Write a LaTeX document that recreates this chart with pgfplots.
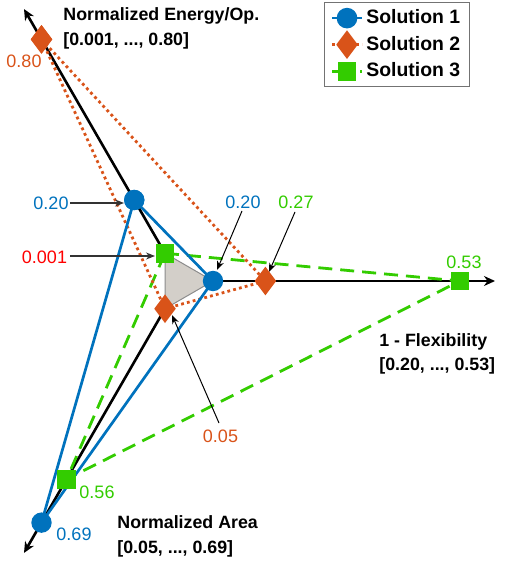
\documentclass[border=0pt]{standalone}
\usepackage{pgfplots}
\pgfplotsset{compat=1.18}
\usepackage{pgfplotstable}
\usepackage{fontspec}
\setmainfont{Liberation Sans}
\usetikzlibrary{arrows.meta}
\definecolor{cblue}{RGB}{0,114,189}
\definecolor{corange}{RGB}{217,83,25}
\definecolor{cgreen}{RGB}{51,204,0}
\definecolor{cred}{RGB}{255,0,0}
\definecolor{tri}{RGB}{211,207,201}
\newcommand\lbl{\fontsize{9}{10}\selectfont}
\newcommand\ttl{\bfseries\fontsize{8.9}{10}\selectfont}

% columns: axis angle, value, axis minimum, axis maximum
\pgfplotstableread{
ang val lo hi
120 0.20 0.001 0.80
0 0.20 0.20 0.53
240 0.69 0.05 0.69
120 0.20 0.001 0.80
}\solA
\pgfplotstableread{
ang val lo hi
120 0.80 0.001 0.80
0 0.27 0.20 0.53
240 0.05 0.05 0.69
120 0.80 0.001 0.80
}\solB
\pgfplotstableread{
ang val lo hi
120 0.001 0.001 0.80
0 0.53 0.20 0.53
240 0.56 0.05 0.69
120 0.001 0.001 0.80
}\solC

\begin{document}
\begin{tikzpicture}
\begin{axis}[
  scale only axis, width=256pt, height=281.5pt,
  xmin=-181, xmax=331, ymin=-282, ymax=281,
  hide axis, clip=false,
  legend image code/.code={\draw[mark repeat=2,mark phase=2,#1] plot coordinates {(0pt,0pt) (7.5pt,0pt) (15pt,0pt)};},
  legend style={at={(axis cs:143,279)}, anchor=north west, draw=black!55, line width=0.6pt,
    font=\bfseries\fontsize{9.7}{11}\selectfont, inner xsep=3pt, inner ysep=2pt,
    nodes={inner sep=1.5pt}, row sep=1.5pt},
  legend cell align=left,
]
\addlegendimage{cblue, line width=1.3pt, mark=*, mark size=4.5pt}
\addlegendentry{Solution 1}
\addlegendimage{corange, line width=1.4pt, dash pattern=on 1.4pt off 1.6pt, mark=diamond*, mark size=6pt, mark options={solid}}
\addlegendentry{Solution 2}
\addlegendimage{cgreen, line width=1.4pt, dash pattern=on 4pt off 3pt, mark=square*, mark size=4pt, mark options={solid}}
\addlegendentry{Solution 3}

% axes
\addplot[black, line width=1.3pt, -{Stealth[length=5.5pt,width=5pt]}, data cs=polar, forget plot] coordinates {(120,32) (120,314)};
\addplot[black, line width=1.3pt, -{Stealth[length=5.5pt,width=5pt]}, data cs=polar, forget plot] coordinates {(0,32) (0,314)};
\addplot[black, line width=1.3pt, -{Stealth[length=5.5pt,width=5pt]}, data cs=polar, forget plot] coordinates {(240,32) (240,314)};

% Solution 3
\addplot[cgreen, line width=1.4pt, dash pattern=on 7pt off 4pt, mark=square*, mark size=4pt, mark options={solid}, data cs=polar, forget plot]
  table[x=ang, y expr={32+(\thisrow{val}-\thisrow{lo})/(\thisrow{hi}-\thisrow{lo})*247}] {\solC};
% Solution 2
\addplot[corange, line width=1.4pt, dash pattern=on 1.4pt off 1.6pt, mark=diamond*, mark size=6pt, mark options={solid}, data cs=polar, forget plot]
  table[x=ang, y expr={32+(\thisrow{val}-\thisrow{lo})/(\thisrow{hi}-\thisrow{lo})*247}] {\solB};

% centre triangle
\addplot[fill=tri, draw=black!45, line width=0.5pt, data cs=polar, forget plot] coordinates {(120,32) (0,32) (240,32) (120,32)};

% Solution 1
\addplot[cblue, line width=1.35pt, mark=*, mark size=4.4pt, data cs=polar, forget plot]
  table[x=ang, y expr={32+(\thisrow{val}-\thisrow{lo})/(\thisrow{hi}-\thisrow{lo})*247}] {\solA};

% annotations
\draw[black!80, line width=0.6pt, -{Stealth[length=4.5pt,width=3.5pt]}] (axis cs:-111,78) -- (axis cs:-57,78);
\node[text=cblue, font=\lbl, inner sep=0] at (axis cs:-130,78) {0.20};
\draw[black!80, line width=0.6pt, -{Stealth[length=4.5pt,width=3.5pt]}] (axis cs:-111,25) -- (axis cs:-26,25);
\node[text=cred, font=\lbl, inner sep=0] at (axis cs:-136.5,24) {0.001};
\draw[black, line width=0.5pt, -{Stealth[length=4.5pt,width=3.5pt]}] (axis cs:61,70) -- (axis cs:36,11);
\node[text=cblue, font=\lbl, inner sep=0] at (axis cs:62,79) {0.20};
\draw[black, line width=0.5pt, -{Stealth[length=4.5pt,width=3.5pt]}] (axis cs:114,69) -- (axis cs:88,9);
\node[text=cgreen, font=\lbl, inner sep=0] at (axis cs:115,79) {0.27};
\node[text=cgreen, font=\lbl, inner sep=0] at (axis cs:283,19) {0.53};
\node[text=corange, font=\lbl, inner sep=0] at (axis cs:-157,220) {0.80};
\draw[black, line width=0.5pt, -{Stealth[length=4.5pt,width=3.5pt]}] (axis cs:38,-142) -- (axis cs:-9,-34);
\node[text=corange, font=\lbl, inner sep=0] at (axis cs:39.5,-155) {0.05};
\node[text=cgreen, font=\lbl, inner sep=0] at (axis cs:-84,-211) {0.56};
\node[text=cblue, font=\lbl, inner sep=0] at (axis cs:-107,-253) {0.69};

% axis titles
\node[anchor=base west, font=\ttl, inner sep=0] at (axis cs:-118,260) {Normalized Energy/Op.};
\node[anchor=base west, font=\ttl, inner sep=0] at (axis cs:-118,235) {[0.001, ..., 0.80]};
\node[anchor=base west, font=\ttl, inner sep=0] at (axis cs:198,-65) {1 - Flexibility};
\node[anchor=base west, font=\ttl, inner sep=0] at (axis cs:198,-89) {[0.20, ..., 0.53]};
\node[anchor=base west, font=\ttl, inner sep=0] at (axis cs:-64,-247) {Normalized Area};
\node[anchor=base west, font=\ttl, inner sep=0] at (axis cs:-64,-272) {[0.05, ..., 0.69]};
\end{axis}
\pgfresetboundingbox
\path (current axis.south west) rectangle (current axis.north east);
\end{tikzpicture}
\end{document}
